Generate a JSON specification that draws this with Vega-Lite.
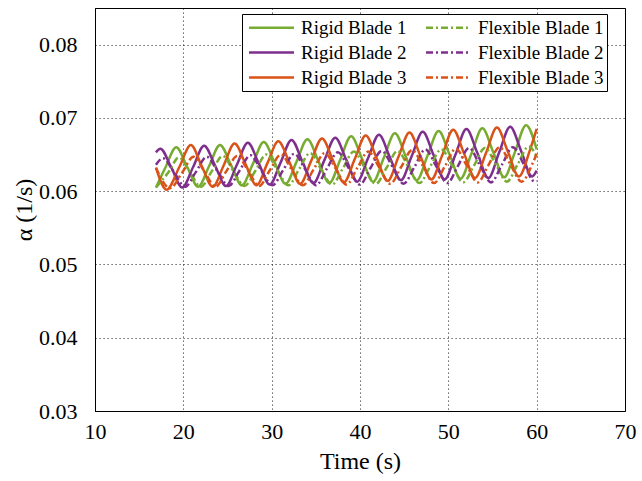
{
  "$schema": "https://vega.github.io/schema/vega-lite/v6.json",
  "width": 530,
  "height": 403,
  "autosize": {"type": "none"},
  "padding": {"left": 95, "top": 8, "right": 17, "bottom": 70},
  "background": "white",
  "config": {
    "font": "Liberation Serif",
    "view": {"stroke": "black", "strokeWidth": 1},
    "axis": {
      "labelFont": "Liberation Serif",
      "titleFont": "Liberation Serif",
      "labelColor": "black",
      "titleColor": "black",
      "titleFontWeight": "normal",
      "domainColor": "black",
      "ticks": false,
      "grid": true,
      "gridColor": "black",
      "gridDash": [1.2, 2.8],
      "gridOpacity": 0.75,
      "labelFlush": false
    },
    "legend": {
      "labelFont": "Liberation Serif",
      "labelFontSize": 19,
      "labelColor": "black",
      "labelLimit": 400
    }
  },
  "data": {
    "values": [
      {"s":"Rigid Blade 1","t":16.9,"v":0.0605},{"s":"Rigid Blade 1","t":17.96,"v":0.0632},{"s":"Rigid Blade 1","t":19.2,"v":0.066},{"s":"Rigid Blade 1","t":20.44,"v":0.0633},{"s":"Rigid Blade 1","t":21.68,"v":0.0606},{"s":"Rigid Blade 1","t":22.91,"v":0.0634},{"s":"Rigid Blade 1","t":24.15,"v":0.0663},{"s":"Rigid Blade 1","t":25.39,"v":0.0636},{"s":"Rigid Blade 1","t":26.63,"v":0.0608},{"s":"Rigid Blade 1","t":27.86,"v":0.0637},{"s":"Rigid Blade 1","t":29.1,"v":0.0667},{"s":"Rigid Blade 1","t":30.34,"v":0.0639},{"s":"Rigid Blade 1","t":31.58,"v":0.061},{"s":"Rigid Blade 1","t":32.81,"v":0.064},{"s":"Rigid Blade 1","t":34.05,"v":0.0671},{"s":"Rigid Blade 1","t":35.29,"v":0.0641},{"s":"Rigid Blade 1","t":36.53,"v":0.0611},{"s":"Rigid Blade 1","t":37.76,"v":0.0643},{"s":"Rigid Blade 1","t":39.0,"v":0.0675},{"s":"Rigid Blade 1","t":40.24,"v":0.0644},{"s":"Rigid Blade 1","t":41.48,"v":0.0613},{"s":"Rigid Blade 1","t":42.71,"v":0.0646},{"s":"Rigid Blade 1","t":43.95,"v":0.0679},{"s":"Rigid Blade 1","t":45.19,"v":0.0647},{"s":"Rigid Blade 1","t":46.43,"v":0.0615},{"s":"Rigid Blade 1","t":47.66,"v":0.0649},{"s":"Rigid Blade 1","t":48.9,"v":0.0682},{"s":"Rigid Blade 1","t":50.14,"v":0.065},{"s":"Rigid Blade 1","t":51.38,"v":0.0617},{"s":"Rigid Blade 1","t":52.61,"v":0.0651},{"s":"Rigid Blade 1","t":53.85,"v":0.0686},{"s":"Rigid Blade 1","t":55.09,"v":0.0653},{"s":"Rigid Blade 1","t":56.33,"v":0.0619},{"s":"Rigid Blade 1","t":57.56,"v":0.0654},{"s":"Rigid Blade 1","t":58.8,"v":0.069},{"s":"Rigid Blade 1","t":60.0,"v":0.0657},
      {"s":"Rigid Blade 2","t":16.9,"v":0.0653},{"s":"Rigid Blade 2","t":17.4,"v":0.0658},{"s":"Rigid Blade 2","t":18.64,"v":0.0632},{"s":"Rigid Blade 2","t":19.88,"v":0.0605},{"s":"Rigid Blade 2","t":21.11,"v":0.0633},{"s":"Rigid Blade 2","t":22.35,"v":0.0662},{"s":"Rigid Blade 2","t":23.59,"v":0.0635},{"s":"Rigid Blade 2","t":24.83,"v":0.0607},{"s":"Rigid Blade 2","t":26.06,"v":0.0636},{"s":"Rigid Blade 2","t":27.3,"v":0.0666},{"s":"Rigid Blade 2","t":28.54,"v":0.0638},{"s":"Rigid Blade 2","t":29.78,"v":0.0609},{"s":"Rigid Blade 2","t":31.01,"v":0.0639},{"s":"Rigid Blade 2","t":32.25,"v":0.067},{"s":"Rigid Blade 2","t":33.49,"v":0.064},{"s":"Rigid Blade 2","t":34.73,"v":0.0611},{"s":"Rigid Blade 2","t":35.96,"v":0.0642},{"s":"Rigid Blade 2","t":37.2,"v":0.0673},{"s":"Rigid Blade 2","t":38.44,"v":0.0643},{"s":"Rigid Blade 2","t":39.68,"v":0.0613},{"s":"Rigid Blade 2","t":40.91,"v":0.0645},{"s":"Rigid Blade 2","t":42.15,"v":0.0677},{"s":"Rigid Blade 2","t":43.39,"v":0.0646},{"s":"Rigid Blade 2","t":44.63,"v":0.0615},{"s":"Rigid Blade 2","t":45.86,"v":0.0648},{"s":"Rigid Blade 2","t":47.1,"v":0.0681},{"s":"Rigid Blade 2","t":48.34,"v":0.0649},{"s":"Rigid Blade 2","t":49.58,"v":0.0616},{"s":"Rigid Blade 2","t":50.81,"v":0.065},{"s":"Rigid Blade 2","t":52.05,"v":0.0685},{"s":"Rigid Blade 2","t":53.29,"v":0.0652},{"s":"Rigid Blade 2","t":54.53,"v":0.0618},{"s":"Rigid Blade 2","t":55.76,"v":0.0653},{"s":"Rigid Blade 2","t":57.0,"v":0.0688},{"s":"Rigid Blade 2","t":58.24,"v":0.0655},{"s":"Rigid Blade 2","t":59.48,"v":0.062},{"s":"Rigid Blade 2","t":60.0,"v":0.0628},
      {"s":"Rigid Blade 3","t":16.9,"v":0.0632},{"s":"Rigid Blade 3","t":18.1,"v":0.0602},{"s":"Rigid Blade 3","t":19.55,"v":0.0633},{"s":"Rigid Blade 3","t":20.85,"v":0.0663},{"s":"Rigid Blade 3","t":22.09,"v":0.0634},{"s":"Rigid Blade 3","t":23.33,"v":0.0606},{"s":"Rigid Blade 3","t":24.56,"v":0.0635},{"s":"Rigid Blade 3","t":25.8,"v":0.0665},{"s":"Rigid Blade 3","t":27.04,"v":0.0637},{"s":"Rigid Blade 3","t":28.28,"v":0.0608},{"s":"Rigid Blade 3","t":29.51,"v":0.0638},{"s":"Rigid Blade 3","t":30.75,"v":0.0668},{"s":"Rigid Blade 3","t":31.99,"v":0.064},{"s":"Rigid Blade 3","t":33.23,"v":0.061},{"s":"Rigid Blade 3","t":34.46,"v":0.0641},{"s":"Rigid Blade 3","t":35.7,"v":0.0672},{"s":"Rigid Blade 3","t":36.94,"v":0.0642},{"s":"Rigid Blade 3","t":38.18,"v":0.0612},{"s":"Rigid Blade 3","t":39.41,"v":0.0644},{"s":"Rigid Blade 3","t":40.65,"v":0.0676},{"s":"Rigid Blade 3","t":41.89,"v":0.0645},{"s":"Rigid Blade 3","t":43.13,"v":0.0614},{"s":"Rigid Blade 3","t":44.36,"v":0.0647},{"s":"Rigid Blade 3","t":45.6,"v":0.068},{"s":"Rigid Blade 3","t":46.84,"v":0.0648},{"s":"Rigid Blade 3","t":48.08,"v":0.0616},{"s":"Rigid Blade 3","t":49.31,"v":0.0649},{"s":"Rigid Blade 3","t":50.55,"v":0.0684},{"s":"Rigid Blade 3","t":51.79,"v":0.0651},{"s":"Rigid Blade 3","t":53.03,"v":0.0618},{"s":"Rigid Blade 3","t":54.26,"v":0.0652},{"s":"Rigid Blade 3","t":55.5,"v":0.0687},{"s":"Rigid Blade 3","t":56.74,"v":0.0654},{"s":"Rigid Blade 3","t":57.98,"v":0.062},{"s":"Rigid Blade 3","t":59.21,"v":0.0655},{"s":"Rigid Blade 3","t":60.0,"v":0.0685},
      {"s":"Flexible Blade 1","t":16.9,"v":0.0605},{"s":"Flexible Blade 1","t":18.27,"v":0.0625},{"s":"Flexible Blade 1","t":19.5,"v":0.0646},{"s":"Flexible Blade 1","t":20.74,"v":0.0626},{"s":"Flexible Blade 1","t":21.98,"v":0.0606},{"s":"Flexible Blade 1","t":23.21,"v":0.0627},{"s":"Flexible Blade 1","t":24.45,"v":0.0648},{"s":"Flexible Blade 1","t":25.69,"v":0.0627},{"s":"Flexible Blade 1","t":26.93,"v":0.0607},{"s":"Flexible Blade 1","t":28.16,"v":0.0628},{"s":"Flexible Blade 1","t":29.4,"v":0.065},{"s":"Flexible Blade 1","t":30.64,"v":0.0629},{"s":"Flexible Blade 1","t":31.88,"v":0.0608},{"s":"Flexible Blade 1","t":33.11,"v":0.063},{"s":"Flexible Blade 1","t":34.35,"v":0.0652},{"s":"Flexible Blade 1","t":35.59,"v":0.063},{"s":"Flexible Blade 1","t":36.83,"v":0.0609},{"s":"Flexible Blade 1","t":38.06,"v":0.0631},{"s":"Flexible Blade 1","t":39.3,"v":0.0654},{"s":"Flexible Blade 1","t":40.54,"v":0.0632},{"s":"Flexible Blade 1","t":41.78,"v":0.061},{"s":"Flexible Blade 1","t":43.01,"v":0.0632},{"s":"Flexible Blade 1","t":44.25,"v":0.0655},{"s":"Flexible Blade 1","t":45.49,"v":0.0633},{"s":"Flexible Blade 1","t":46.73,"v":0.0611},{"s":"Flexible Blade 1","t":47.96,"v":0.0634},{"s":"Flexible Blade 1","t":49.2,"v":0.0657},{"s":"Flexible Blade 1","t":50.44,"v":0.0635},{"s":"Flexible Blade 1","t":51.68,"v":0.0612},{"s":"Flexible Blade 1","t":52.91,"v":0.0635},{"s":"Flexible Blade 1","t":54.15,"v":0.0659},{"s":"Flexible Blade 1","t":55.39,"v":0.0636},{"s":"Flexible Blade 1","t":56.63,"v":0.0613},{"s":"Flexible Blade 1","t":57.86,"v":0.0637},{"s":"Flexible Blade 1","t":59.1,"v":0.0661},{"s":"Flexible Blade 1","t":60.0,"v":0.0647},
      {"s":"Flexible Blade 2","t":16.9,"v":0.0636},{"s":"Flexible Blade 2","t":17.7,"v":0.0645},{"s":"Flexible Blade 2","t":18.94,"v":0.0626},{"s":"Flexible Blade 2","t":20.18,"v":0.0606},{"s":"Flexible Blade 2","t":21.41,"v":0.0626},{"s":"Flexible Blade 2","t":22.65,"v":0.0647},{"s":"Flexible Blade 2","t":23.89,"v":0.0627},{"s":"Flexible Blade 2","t":25.13,"v":0.0607},{"s":"Flexible Blade 2","t":26.36,"v":0.0628},{"s":"Flexible Blade 2","t":27.6,"v":0.0649},{"s":"Flexible Blade 2","t":28.84,"v":0.0628},{"s":"Flexible Blade 2","t":30.08,"v":0.0608},{"s":"Flexible Blade 2","t":31.31,"v":0.0629},{"s":"Flexible Blade 2","t":32.55,"v":0.0651},{"s":"Flexible Blade 2","t":33.79,"v":0.063},{"s":"Flexible Blade 2","t":35.03,"v":0.0608},{"s":"Flexible Blade 2","t":36.26,"v":0.0631},{"s":"Flexible Blade 2","t":37.5,"v":0.0653},{"s":"Flexible Blade 2","t":38.74,"v":0.0631},{"s":"Flexible Blade 2","t":39.98,"v":0.0609},{"s":"Flexible Blade 2","t":41.21,"v":0.0632},{"s":"Flexible Blade 2","t":42.45,"v":0.0655},{"s":"Flexible Blade 2","t":43.69,"v":0.0633},{"s":"Flexible Blade 2","t":44.93,"v":0.061},{"s":"Flexible Blade 2","t":46.16,"v":0.0633},{"s":"Flexible Blade 2","t":47.4,"v":0.0657},{"s":"Flexible Blade 2","t":48.64,"v":0.0634},{"s":"Flexible Blade 2","t":49.88,"v":0.0611},{"s":"Flexible Blade 2","t":51.11,"v":0.0635},{"s":"Flexible Blade 2","t":52.35,"v":0.0659},{"s":"Flexible Blade 2","t":53.59,"v":0.0635},{"s":"Flexible Blade 2","t":54.83,"v":0.0612},{"s":"Flexible Blade 2","t":56.06,"v":0.0636},{"s":"Flexible Blade 2","t":57.3,"v":0.066},{"s":"Flexible Blade 2","t":58.54,"v":0.0637},{"s":"Flexible Blade 2","t":59.78,"v":0.0613},{"s":"Flexible Blade 2","t":60.0,"v":0.0614},
      {"s":"Flexible Blade 3","t":16.9,"v":0.0632},{"s":"Flexible Blade 3","t":18.5,"v":0.0604},{"s":"Flexible Blade 3","t":19.9,"v":0.0626},{"s":"Flexible Blade 3","t":21.15,"v":0.0647},{"s":"Flexible Blade 3","t":22.39,"v":0.0627},{"s":"Flexible Blade 3","t":23.63,"v":0.0606},{"s":"Flexible Blade 3","t":24.86,"v":0.0627},{"s":"Flexible Blade 3","t":26.1,"v":0.0648},{"s":"Flexible Blade 3","t":27.34,"v":0.0628},{"s":"Flexible Blade 3","t":28.58,"v":0.0607},{"s":"Flexible Blade 3","t":29.81,"v":0.0629},{"s":"Flexible Blade 3","t":31.05,"v":0.065},{"s":"Flexible Blade 3","t":32.29,"v":0.0629},{"s":"Flexible Blade 3","t":33.53,"v":0.0608},{"s":"Flexible Blade 3","t":34.76,"v":0.063},{"s":"Flexible Blade 3","t":36.0,"v":0.0652},{"s":"Flexible Blade 3","t":37.24,"v":0.0631},{"s":"Flexible Blade 3","t":38.48,"v":0.0609},{"s":"Flexible Blade 3","t":39.71,"v":0.0632},{"s":"Flexible Blade 3","t":40.95,"v":0.0654},{"s":"Flexible Blade 3","t":42.19,"v":0.0632},{"s":"Flexible Blade 3","t":43.43,"v":0.061},{"s":"Flexible Blade 3","t":44.66,"v":0.0633},{"s":"Flexible Blade 3","t":45.9,"v":0.0656},{"s":"Flexible Blade 3","t":47.14,"v":0.0634},{"s":"Flexible Blade 3","t":48.38,"v":0.0611},{"s":"Flexible Blade 3","t":49.61,"v":0.0634},{"s":"Flexible Blade 3","t":50.85,"v":0.0658},{"s":"Flexible Blade 3","t":52.09,"v":0.0635},{"s":"Flexible Blade 3","t":53.33,"v":0.0612},{"s":"Flexible Blade 3","t":54.56,"v":0.0636},{"s":"Flexible Blade 3","t":55.8,"v":0.066},{"s":"Flexible Blade 3","t":57.04,"v":0.0636},{"s":"Flexible Blade 3","t":58.28,"v":0.0613},{"s":"Flexible Blade 3","t":59.51,"v":0.0637},{"s":"Flexible Blade 3","t":60.0,"v":0.0651}
    ]
  },
  "encoding": {
    "x": {
      "field": "t", "type": "quantitative",
      "scale": {"domain": [10, 70], "nice": false, "zero": false},
      "axis": {"title": "Time (s)", "values": [10, 20, 30, 40, 50, 60, 70], "format": "d",
               "labelFontSize": 22, "titleFontSize": 24, "labelPadding": 10, "titlePadding": 7}
    },
    "y": {
      "field": "v", "type": "quantitative",
      "scale": {"domain": [0.03, 0.085], "nice": false, "zero": false},
      "axis": {"title": "α (1/s)", "values": [0.03, 0.04, 0.05, 0.06, 0.07, 0.08], "format": ".2f",
               "labelFontSize": 22, "titleFontSize": 24, "labelPadding": 18, "titlePadding": 2}
    },
    "color": {
      "field": "s", "type": "nominal",
      "scale": {
        "domain": ["Rigid Blade 1", "Rigid Blade 2", "Rigid Blade 3", "Flexible Blade 1", "Flexible Blade 2", "Flexible Blade 3"],
        "range": ["#77AC30", "#7E2F8E", "#D95319", "#77AC30", "#7E2F8E", "#D95319"]
      },
      "legend": {
        "title": null, "orient": "none", "legendX": 147, "legendY": 6, "columns": 2,
        "symbolType": "M-2.5,0H2.5", "symbolSize": 324, "symbolStrokeWidth": 2.5,
        "symbolOffset": 16, "labelOffset": 19,
        "labelFont": "Liberation Serif", "labelFontSize": 19, "labelColor": "black", "labelLimit": 400,
        "columnPadding": 14, "rowPadding": 4, "padding": 3,
        "fillColor": "white", "strokeColor": "black", "cornerRadius": 0,
        "encode": {"symbols": {"update": {"strokeDash": {"signal": "indexof(datum.value, 'Flexible') >= 0 ? [7, 3, 2, 3] : [20, 0]"}}}}
      }
    }
  },
  "layer": [
    {
      "transform": [{"filter": "indexof(datum.s, 'Rigid') >= 0"}],
      "mark": {"type": "line", "interpolate": "monotone", "strokeWidth": 2.5, "clip": true}
    },
    {
      "transform": [{"filter": "indexof(datum.s, 'Flexible') >= 0"}],
      "mark": {"type": "line", "interpolate": "monotone", "strokeWidth": 2.5, "clip": true, "strokeDash": [7, 3, 2, 3]}
    }
  ]
}
